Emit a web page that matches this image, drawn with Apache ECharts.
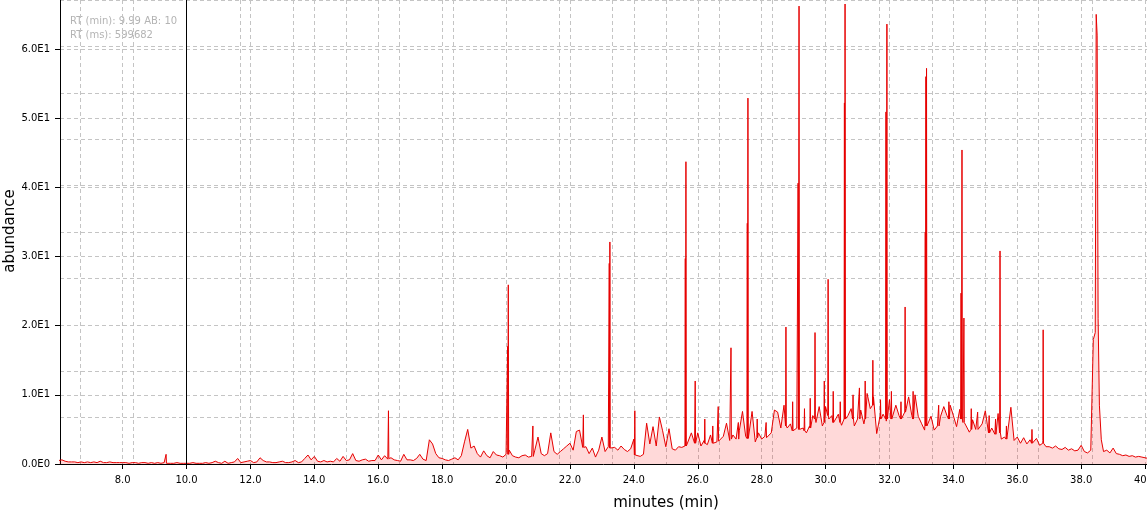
<!DOCTYPE html>
<html><head><meta charset="utf-8">
<script src="https://cdn.jsdelivr.net/npm/echarts@6/dist/echarts.min.js"></script>
<style>html,body{margin:0;padding:0;background:#fff}#c{width:1147px;height:511px}</style>
</head><body><div id="c"></div>
<script>
// Baseline (noise) trace sampled every 0.1 min from 6.0 min; null = covered by peak profile
const baseStart = 6.0;
const baseStep = 0.1;
const baseAb = [
  0.5,0.6,0.4,0.3,0.3,0.3,0.2,0.3,0.2,0.3,   // 6
  0.2,0.3,0.2,0.4,0.2,0.2,0.3,0.2,0.2,0.2,   // 7
  0.2,0.2,0.1,0.2,0.2,0.1,0.2,0.2,0.1,0.2,   // 8
  0.1,0.2,0.1,0.2,0.1,0.1,0.1,0.2,0.1,0.1,   // 9
  0.1,0.1,0.2,0.1,0.1,0.1,0.2,0.1,0.2,0.4,   // 10
  0.2,0.1,0.4,0.1,0.2,0.3,0.8,0.2,0.3,0.4,   // 11
  0.5,0.2,0.3,0.9,0.5,0.3,0.3,0.2,0.2,0.3,   // 12
  0.4,0.2,0.2,0.3,0.5,0.2,0.3,0.8,1.3,0.6,   // 13
  1.1,0.4,0.3,0.5,0.3,0.4,0.3,0.8,0.4,1.1,   // 14
  0.5,0.6,1.5,0.5,0.4,0.6,0.7,0.4,0.5,0.5,   // 15
  1.3,0.6,1.2,0.7,0.9,0.6,0.5,0.4,1.4,0.6,   // 16
  0.6,0.5,0.8,1.4,0.7,0.5,3.5,2.9,1.5,0.9,   // 17
  0.8,0.6,0.5,0.7,0.9,0.6,1.2,3.2,5.0,2.3,   // 18
  2.6,1.5,1.0,1.9,1.2,0.9,1.8,1.3,1.2,1.0,   // 19
  1.4,2.0,1.2,1.0,0.9,1.2,1.3,1.0,1.1,2.0,   // 20
  3.9,1.5,1.2,1.5,4.5,1.8,1.4,1.8,2.2,2.6,   // 21
  3.0,2.0,4.7,4.9,2.4,2.5,1.5,2.3,1.0,2.0,   // 22
  3.9,1.8,2.5,2.2,2.4,2.0,2.6,2.1,1.8,2.2,   // 23
  3.6,1.2,1.1,1.4,5.9,2.9,5.4,2.6,6.8,4.8,   // 24
  2.5,5.1,2.2,2.0,2.5,2.4,2.6,2.8,4.5,3.0,   // 25
  4.5,2.6,3.4,2.8,4.2,3.0,3.2,3.5,4.0,5.9,   // 26
  3.4,4.2,3.6,4.8,7.6,4.0,3.5,7.6,3.2,4.5,   // 27
  3.6,4.0,3.8,4.5,7.8,7.5,5.2,8.5,5.2,5.8,   // 28
  4.6,5.2,4.8,5.2,4.5,5.5,7.0,6.0,8.3,5.5,   // 29
  8.3,6.5,7.0,6.0,7.2,5.6,6.8,7.0,8.0,5.5,   // 30
  6.5,7.8,5.8,10.2,8.0,9.7,4.4,6.8,7.2,6.2,  // 31
  9.3,6.4,8.5,7.0,6.4,8.0,9.7,7.0,10.0,6.9,  // 32
  5.9,4.9,5.5,6.9,4.9,5.5,6.9,8.3,7.0,8.5,   // 33
  7.0,5.4,7.9,6.0,5.5,4.6,6.4,5.0,4.8,5.8,   // 34
  7.7,4.5,5.2,4.3,7.3,3.6,3.9,3.4,8.2,3.4,   // 35
  3.9,3.0,3.8,2.9,3.5,2.8,3.7,2.7,3.4,2.5,   // 36
  2.5,2.3,2.6,2.2,2.1,2.4,2.0,2.2,1.9,2.0,   // 37
  2.7,1.8,1.6,2.0,null,null,null,1.8,2.0,1.6, // 38
  2.3,1.5,1.4,1.2,1.3,1.1,1.2,1.0,1.1,1.0,   // 39
  0.9,0.8                                     // 40
];
// Narrow peaks: retention time (min), apex abundance, local baseline at the foot
const peakRt   = [9.36,16.32,20.05,20.07,20.84,22.42,23.23,23.25,24.03,25.61,25.63,25.92,26.64,27.04,27.55,27.57,28.76,29.14,29.17,29.67,30.08,30.59,30.61,31.48,31.89,31.92,32.49,33.12,33.14,33.16,34.24,34.27,34.33,35.46,36.81];
const peakAb   = [1.4,7.7,17.0,25.9,5.5,7.1,29.0,32.1,7.7,29.7,43.7,12.0,8.3,16.8,34.8,52.9,19.8,40.6,66.2,19.0,26.7,52.2,66.5,15.0,50.9,63.6,22.7,33.5,56.0,57.2,24.7,45.4,21.1,30.8,19.4];
const peakFoot = [0.1,0.8,1.4,1.4,1.1,2.4,2.3,2.3,1.3,2.6,2.6,3.0,3.3,3.6,3.7,3.7,5.5,5.0,5.0,6.5,7.0,6.5,6.5,8.5,6.5,6.5,7.5,5.5,5.5,5.5,6.5,6.5,6.0,4.5,3.0];
// Minor noise spikes in the busy region
const minorRt   = [26.22,26.47,27.27,27.86,28.14,28.97,29.34,29.52,29.96,30.24,30.46,30.86,31.06,31.24,31.72,32.06,32.36,32.74,33.54,33.86,34.56,34.76,35.12,35.32,35.66,36.46];
const minorAb   = [6.5,5.5,6.0,6.5,6.0,9.0,8.0,9.5,12.0,10.5,9.0,10.0,11.0,12.0,9.3,10.5,9.0,10.5,8.5,9.0,8.0,7.5,7.0,6.5,5.5,5.0];
const minorFoot = [3.0,3.0,3.6,3.8,3.8,4.8,4.8,5.2,6.0,6.0,6.0,6.5,6.5,6.5,6.5,6.5,6.5,6.5,5.5,6.5,5.0,5.0,4.5,4.3,3.6,3.0];
// Broad late-eluting peak profile
const profileRt = [38.35,38.38,38.44,38.47,38.50,38.53,38.57,38.63];
const profileAb = [2.2,18.0,19.0,65.0,62.0,21.0,8.5,3.5];
// Cursor readout
const cursorRt = 9.99;
const cursorInfo = ['RT (min): 9.99 AB: 10', 'RT (ms): 599682'];

const pts = [];
baseAb.forEach((v, i) => { if (v !== null) pts.push([+(baseStart + i * baseStep).toFixed(2), v]); });
const halfWidth = 0.012;
function addSpikes(rts, abs, feet) {
  rts.forEach((t, i) => {
    pts.push([t - halfWidth, feet[i]], [t, abs[i]], [t + halfWidth, feet[i]]);
  });
}
addSpikes(peakRt, peakAb, peakFoot);
addSpikes(minorRt, minorAb, minorFoot);
profileRt.forEach((t, i) => pts.push([t, profileAb[i]]));
pts.sort((a, b) => a[0] - b[0]);

const xMin = 6.04, xMax = 40.06, yMax = 67.08;
const gridLine = { show: true, lineStyle: { color: '#c4c4c4', type: [4, 3], width: 1 } };
const FONT = 'DejaVu Sans';

const chart = echarts.init(document.getElementById('c'), null, { renderer: 'canvas' });
chart.setOption({
  animation: false,
  backgroundColor: '#fff',
  grid: { left: 60, right: 0, top: 0, bottom: 47, containLabel: false, outerBoundsMode: 'none' },
  xAxis: [{
    type: 'value', min: xMin, max: xMax, splitNumber: 17, minInterval: 2, maxInterval: 2,
    axisLine: { show: true, onZero: false, lineStyle: { color: '#000', width: 1 } },
    axisTick: { show: true, length: 5, lineStyle: { color: '#000' } },
    axisLabel: { show: true, color: '#000', fontFamily: FONT, fontSize: 10, margin: 11,
      showMinLabel: false, showMaxLabel: false, hideOverlap: false, formatter: v => v.toFixed(1) },
    splitLine: gridLine
  }, {
    type: 'value', position: 'top', min: xMin * 60000, max: xMax * 60000, splitNumber: 20,
    minInterval: 100000, maxInterval: 100000,
    axisLine: { show: false }, axisTick: { show: false }, axisLabel: { show: false },
    splitLine: gridLine
  }],
  yAxis: [{
    type: 'value', min: 0, max: yMax, interval: 10,
    axisLine: { show: true, lineStyle: { color: '#000', width: 1 } },
    axisTick: { show: true, length: 5, lineStyle: { color: '#000' } },
    axisLabel: { show: true, color: '#000', fontFamily: FONT, fontSize: 10, margin: 10,
      showMaxLabel: false, padding: [5, 0, 0, 0],
      formatter: v => v === 0 ? '0.0E0' : (v / 10).toFixed(1) + 'E1' },
    splitLine: gridLine
  }, {
    type: 'value', position: 'right', min: 0, max: 100, interval: 10,
    axisLine: { show: false }, axisTick: { show: false }, axisLabel: { show: false },
    splitLine: gridLine
  }],
  graphic: [
    { type: 'text', x: 70, y: 21, style: { text: cursorInfo[0], font: '10px "DejaVu Sans"', fill: '#b4b4b4', textVerticalAlign: 'middle' } },
    { type: 'text', x: 70, y: 35, style: { text: cursorInfo[1], font: '10px "DejaVu Sans"', fill: '#b4b4b4', textVerticalAlign: 'middle' } },
    { type: 'text', x: 666, y: 503, style: { text: 'minutes (min)', font: '15px "DejaVu Sans"', fill: '#000', textAlign: 'center', textVerticalAlign: 'middle' } },
    { type: 'text', x: 10, y: 231, rotation: Math.PI / 2, style: { text: 'abundance', font: '15px "DejaVu Sans"', fill: '#000', textAlign: 'center', textVerticalAlign: 'middle' } }
  ],
  series: [{
    type: 'line', xAxisIndex: 0, yAxisIndex: 0, data: pts,
    showSymbol: false, symbol: 'none', sampling: null, clip: true,
    lineStyle: { color: '#e60000', width: 1 },
    areaStyle: { color: 'rgba(255,0,0,0.21)', origin: 'start' },
    markLine: { silent: true, symbol: 'none', animation: false,
      label: { show: false },
      lineStyle: { color: '#000', type: 'solid', width: 1 },
      data: [{ xAxis: cursorRt }] }
  }]
});
</script></body></html>
